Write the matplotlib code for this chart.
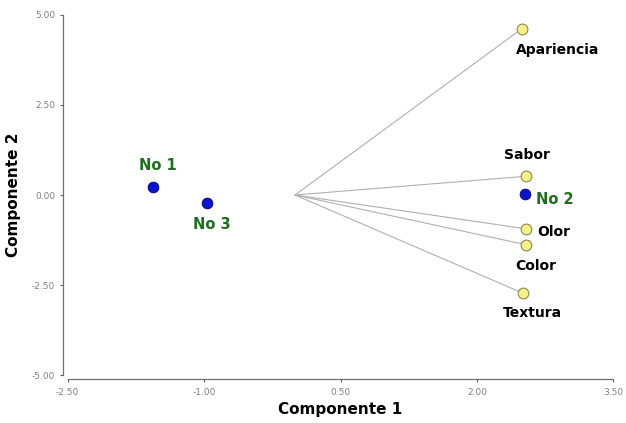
import matplotlib
matplotlib.use("Agg")
import matplotlib.pyplot as plt
from matplotlib.ticker import FormatStrFormatter

# variable loadings (component 1, component 2)
var_names = ["Apariencia", "Sabor", "Olor", "Color", "Textura"]
var_x = [2.49, 2.54, 2.54, 2.54, 2.51]
var_y = [4.61, 0.52, -0.94, -1.38, -2.73]

# sample scores
obs_names = ["No 1", "No 2", "No 3"]
obs_x = [-1.56, 2.53, -0.97]
obs_y = [0.22, 0.03, -0.22]

x_ticks = [-2.5, -1.0, 0.5, 2.0, 3.5]
y_ticks = [-5.0, -2.5, 0.0, 2.5, 5.0]


def main():
    fig = plt.figure(figsize=(6.26, 4.23), dpi=100)
    ax = fig.add_axes([0.108, 0.113, 0.872, 0.852])

    for x, y in zip(var_x, var_y):
        ax.plot([0, x], [0, y], color="#b0b0b0", linewidth=0.8, zorder=1)

    ax.scatter(var_x, var_y, s=60, color="#f5f08a", edgecolors="#8a8a50",
               linewidths=0.8, zorder=3)
    ax.scatter(obs_x, obs_y, s=60, color="#0a14c8", edgecolors="#000080",
               linewidths=0.6, zorder=3)

    # label placement per point (dx, dy in points, ha, va)
    var_offsets = {
        "Apariencia": (-4, -10, "left", "top"),
        "Sabor": (-16, 10, "left", "bottom"),
        "Olor": (8, -2, "left", "center"),
        "Color": (-8, -10, "left", "top"),
        "Textura": (-15, -9, "left", "top"),
    }
    for name, x, y in zip(var_names, var_x, var_y):
        dx, dy, ha, va = var_offsets[name]
        ax.annotate(name, (x, y), xytext=(dx, dy), textcoords="offset points",
                    ha=ha, va=va, fontsize=10, fontweight="bold", color="black")

    obs_offsets = {
        "No 1": (-10, 10, "left", "bottom"),
        "No 2": (8, -4, "left", "center"),
        "No 3": (-10, -10, "left", "top"),
    }
    for name, x, y in zip(obs_names, obs_x, obs_y):
        dx, dy, ha, va = obs_offsets[name]
        ax.annotate(name, (x, y), xytext=(dx, dy), textcoords="offset points",
                    ha=ha, va=va, fontsize=10.5, fontweight="bold", color="#1e6e1e")

    ax.set_xlim(-2.5, 3.5)
    ax.set_ylim(-5.0, 5.0)
    ax.set_xticks(x_ticks)
    ax.set_yticks(y_ticks)
    ax.xaxis.set_major_formatter(FormatStrFormatter("%.2f"))
    ax.yaxis.set_major_formatter(FormatStrFormatter("%.2f"))
    ax.tick_params(labelsize=6.5, labelcolor="#808080", color="#606060",
                   length=2.5, width=0.8)

    ax.spines["top"].set_visible(False)
    ax.spines["right"].set_visible(False)
    for side in ["left", "bottom"]:
        ax.spines[side].set_position(("outward", 3))
        ax.spines[side].set_color("#707070")
        ax.spines[side].set_linewidth(0.9)

    ax.set_xlabel("Componente 1", fontsize=11, fontweight="bold", labelpad=4)
    ax.set_ylabel("Componente 2", fontsize=11, fontweight="bold", labelpad=8)

    fig.savefig("out.png", dpi=100)


if __name__ == "__main__":
    main()
